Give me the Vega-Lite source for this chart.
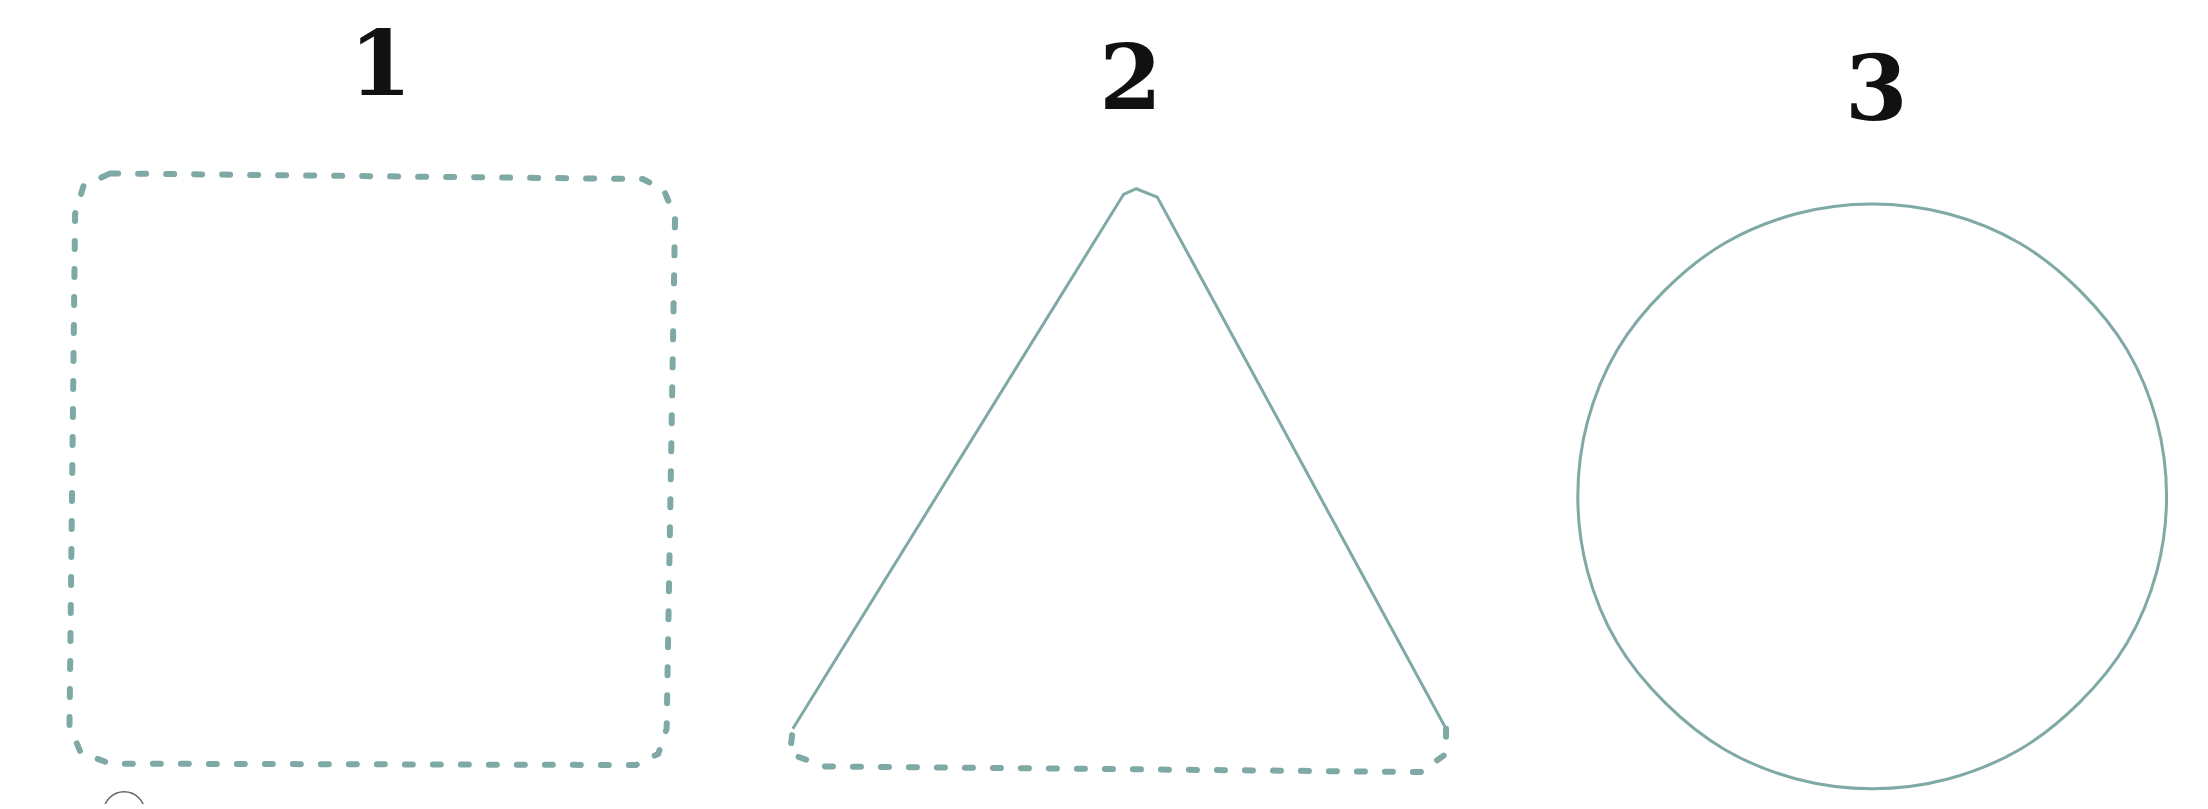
{
  "$schema": "https://vega.github.io/schema/vega-lite/v6.json",
  "width": 2208,
  "height": 809,
  "autosize": {"type": "fit", "contains": "padding"},
  "background": "white",
  "config": {"view": {"stroke": null}},
  "datasets": {
    "paths": [
      {"shape": "square", "style": "dash", "o": 1, "x": 75, "y": 121},
      {"shape": "square", "style": "dash", "o": 2, "x": 455, "y": 125},
      {"shape": "square", "style": "dash", "o": 3, "x": 470, "y": 133},
      {"shape": "square", "style": "dash", "o": 4, "x": 478, "y": 152},
      {"shape": "square", "style": "dash", "o": 5, "x": 472, "y": 520},
      {"shape": "square", "style": "dash", "o": 6, "x": 466, "y": 538},
      {"shape": "square", "style": "dash", "o": 7, "x": 450, "y": 546},
      {"shape": "square", "style": "dash", "o": 8, "x": 75, "y": 545},
      {"shape": "square", "style": "dash", "o": 9, "x": 54, "y": 537},
      {"shape": "square", "style": "dash", "o": 10, "x": 46, "y": 518},
      {"shape": "square", "style": "dash", "o": 11, "x": 50, "y": 150},
      {"shape": "square", "style": "dash", "o": 12, "x": 56, "y": 130},
      {"shape": "square", "style": "dash", "o": 13, "x": 75, "y": 121},
      {"shape": "tri", "style": "solid", "o": 1, "x": 562, "y": 520},
      {"shape": "tri", "style": "solid", "o": 2, "x": 798, "y": 136},
      {"shape": "tri", "style": "solid", "o": 3, "x": 807, "y": 132},
      {"shape": "tri", "style": "solid", "o": 4, "x": 822, "y": 138},
      {"shape": "tri", "style": "solid", "o": 5, "x": 1028, "y": 520},
      {"shape": "tribase", "style": "dash", "o": 1, "x": 1028, "y": 520},
      {"shape": "tribase", "style": "dash", "o": 2, "x": 1028, "y": 538},
      {"shape": "tribase", "style": "dash", "o": 3, "x": 1010, "y": 551},
      {"shape": "tribase", "style": "dash", "o": 4, "x": 585, "y": 547},
      {"shape": "tribase", "style": "dash", "o": 5, "x": 560, "y": 538},
      {"shape": "tribase", "style": "dash", "o": 6, "x": 562, "y": 520},
      {"shape": "circle", "style": "round", "o": 1, "x": 1542, "y": 353},
      {"shape": "circle", "style": "round", "o": 2, "x": 1535, "y": 299},
      {"shape": "circle", "style": "round", "o": 3, "x": 1514, "y": 248},
      {"shape": "circle", "style": "round", "o": 4, "x": 1480, "y": 205},
      {"shape": "circle", "style": "round", "o": 5, "x": 1437, "y": 171},
      {"shape": "circle", "style": "round", "o": 6, "x": 1386, "y": 150},
      {"shape": "circle", "style": "round", "o": 7, "x": 1332, "y": 143},
      {"shape": "circle", "style": "round", "o": 8, "x": 1278, "y": 150},
      {"shape": "circle", "style": "round", "o": 9, "x": 1227, "y": 171},
      {"shape": "circle", "style": "round", "o": 10, "x": 1184, "y": 205},
      {"shape": "circle", "style": "round", "o": 11, "x": 1150, "y": 248},
      {"shape": "circle", "style": "round", "o": 12, "x": 1129, "y": 299},
      {"shape": "circle", "style": "round", "o": 13, "x": 1122, "y": 353},
      {"shape": "circle", "style": "round", "o": 14, "x": 1129, "y": 407},
      {"shape": "circle", "style": "round", "o": 15, "x": 1150, "y": 458},
      {"shape": "circle", "style": "round", "o": 16, "x": 1184, "y": 501},
      {"shape": "circle", "style": "round", "o": 17, "x": 1227, "y": 535},
      {"shape": "circle", "style": "round", "o": 18, "x": 1278, "y": 556},
      {"shape": "circle", "style": "round", "o": 19, "x": 1332, "y": 563},
      {"shape": "circle", "style": "round", "o": 20, "x": 1386, "y": 556},
      {"shape": "circle", "style": "round", "o": 21, "x": 1437, "y": 535},
      {"shape": "circle", "style": "round", "o": 22, "x": 1480, "y": 501},
      {"shape": "circle", "style": "round", "o": 23, "x": 1514, "y": 458},
      {"shape": "circle", "style": "round", "o": 24, "x": 1535, "y": 407}
    ],
    "labels": [
      {"label": "1", "x": 268, "y": 45},
      {"label": "2", "x": 803, "y": 55},
      {"label": "3", "x": 1335, "y": 63}
    ],
    "marker": [{"x": 85, "y": 580}]
  },
  "encoding": {
    "x": {"field": "x", "type": "quantitative", "scale": {"domain": [0, 1568], "nice": false, "zero": false}, "axis": null},
    "y": {"field": "y", "type": "quantitative", "scale": {"domain": [0, 574], "reverse": true, "nice": false, "zero": false}, "axis": null}
  },
  "layer": [
    {
      "data": {"name": "paths"},
      "transform": [{"filter": "datum.style == 'dash'"}],
      "mark": {"type": "line", "color": "#7fa9a5", "strokeWidth": 6, "strokeDash": [8, 20], "strokeCap": "round", "clip": true},
      "encoding": {"detail": {"field": "shape"}, "order": {"field": "o", "type": "quantitative"}}
    },
    {
      "data": {"name": "paths"},
      "transform": [{"filter": "datum.style == 'solid'"}],
      "mark": {"type": "line", "color": "#7fa9a5", "strokeWidth": 3},
      "encoding": {"detail": {"field": "shape"}, "order": {"field": "o", "type": "quantitative"}}
    },
    {
      "data": {"name": "paths"},
      "transform": [{"filter": "datum.style == 'round'"}],
      "mark": {"type": "line", "color": "#7fa9a5", "strokeWidth": 3, "interpolate": "cardinal-closed"},
      "encoding": {"order": {"field": "o", "type": "quantitative"}}
    },
    {
      "data": {"name": "labels"},
      "mark": {"type": "text", "font": "DejaVu Serif", "fontWeight": "bold", "fontSize": 90, "color": "#111111", "baseline": "middle"},
      "encoding": {"text": {"field": "label"}}
    },
    {
      "data": {"name": "marker"},
      "mark": {"type": "point", "shape": "circle", "filled": false, "color": "#222222", "strokeWidth": 1.5, "size": 1700, "clip": true}
    }
  ]
}
